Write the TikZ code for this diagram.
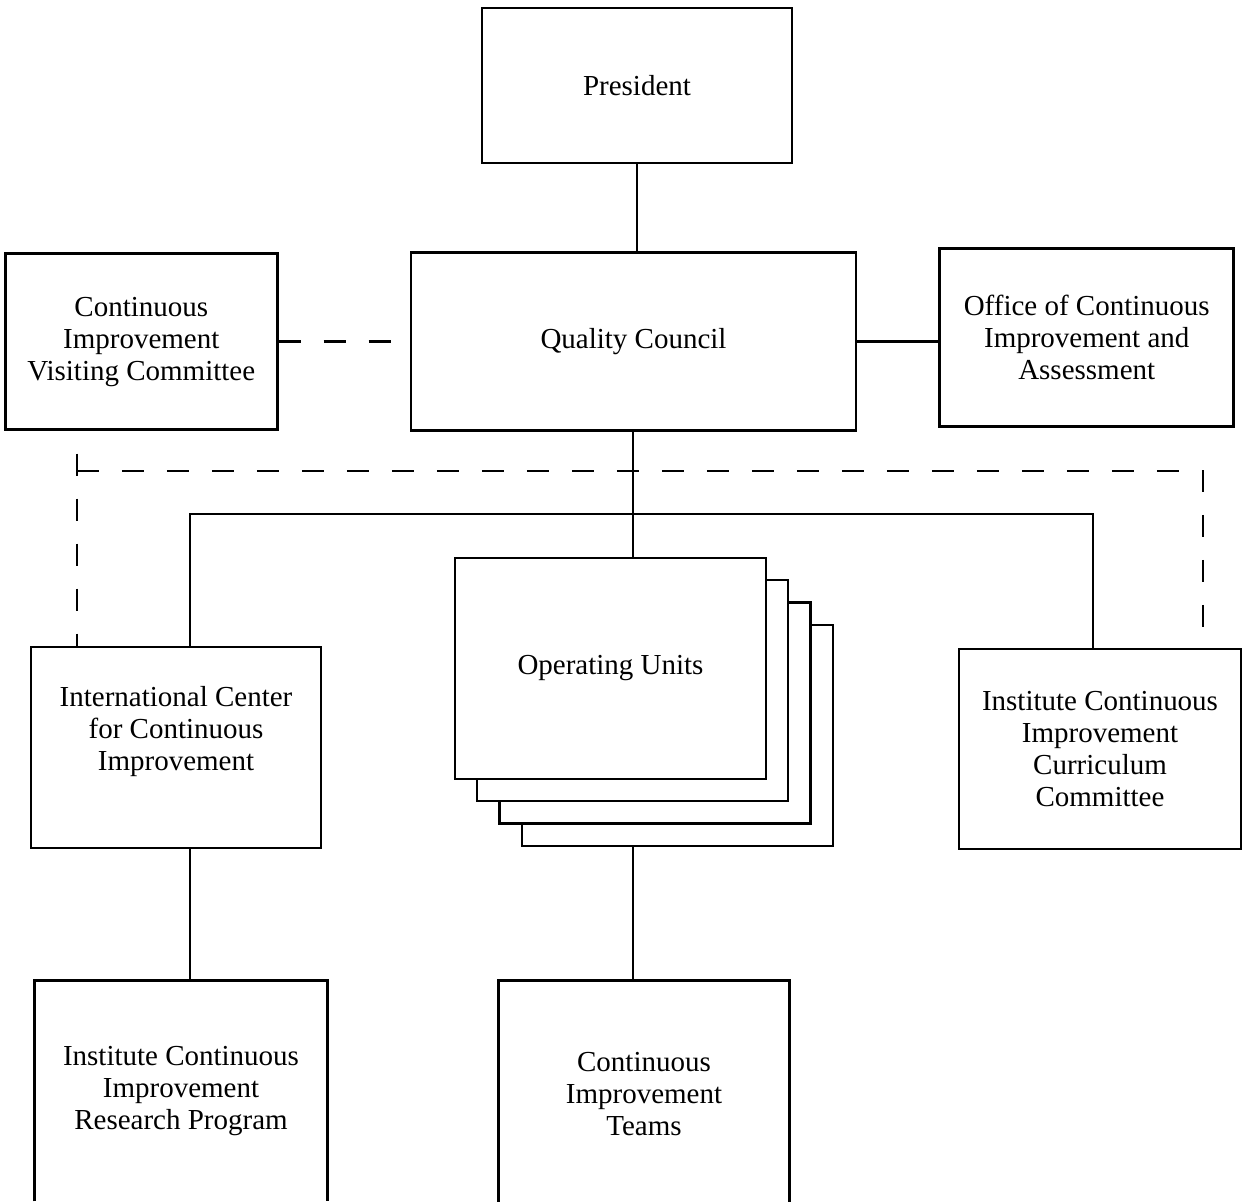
\documentclass[tikz,border=0pt]{standalone}
\usepackage{fontspec}
\setmainfont{Liberation Serif}
\usetikzlibrary{positioning, calc}

\begin{document}
\begin{tikzpicture}[x=0.02cm, y=-0.02cm]

        % --- Styles ---
        \tikzstyle{box} = [rectangle, draw=black, line width=1.6pt, fill=white, align=center, inner sep=0pt, font=\fontsize{16.5}{18.2}\selectfont]
        \tikzstyle{openbox} = [rectangle, align=center, inner sep=0pt, font=\fontsize{16.5}{18.2}\selectfont]
        \tikzstyle{unitbox} = [box, minimum width=6.22cm, minimum height=4.42cm]
        \tikzstyle{link} = [line width=1.6pt]
        \tikzstyle{dashlink} = [line width=1.6pt, dash pattern=on 0.45cm off 0.45cm]

        \useasboundingbox (0,0) rectangle (1247,1201);

        % --- Nodes ---

        % 1. President
        \node (pres) [box, minimum width=6.2cm, minimum height=3.1cm] at (637,85.5) {President};

        % 2. Quality Council and the boxes beside it
        \node (qc) [box, minimum width=8.9cm, minimum height=3.56cm, below=1.74cm of pres, xshift=-0.07cm] {Quality Council};
        \node (visit) [box, minimum width=5.44cm, minimum height=3.52cm, left=2.62cm of qc] {Continuous\\Improvement\\Visiting Committee};
        \node (office) [box, minimum width=5.88cm, minimum height=3.56cm, right=1.62cm of qc, yshift=0.08cm] {Office of Continuous\\Improvement and\\Assessment};

        % 3. Second level
        \node (intl) [box, minimum width=5.8cm, minimum height=4.02cm] at (176,747.5) {};
        \node (intltext) [openbox] at ($(intl.center) + (0,-16)$) {International Center\\for Continuous\\Improvement};
        \node (curric) [box, minimum width=5.64cm, minimum height=4cm] at (1100,749) {Institute Continuous\\Improvement\\Curriculum\\Committee};

        % Operating units (stack of four sheets)
        \node (unit3) [unitbox] at (677.5,735.5) {};
        \node (unit2) [unitbox] at (655,713) {};
        \node (unit1) [unitbox] at (632.5,690.5) {};
        \node (ops) [unitbox] at (610.5,668.5) {Operating Units};

        % 4. Bottom level (cut off by the page edge)
        \node (research) [openbox, minimum width=5.84cm, minimum height=4.4cm] at (181,1091) {Institute Continuous\\Improvement\\Research Program};
        \node (teams) [openbox, minimum width=5.8cm, minimum height=4.52cm] at (644,1094) {Continuous\\Improvement\\Teams};
        \draw[link] (research.south west) |- (research.north east) -- (research.south east);
        \draw[link] (teams.south west) |- (teams.north east) -- (teams.south east);

        % --- Connectors ---
        \coordinate (bus) at (633,514);
        \coordinate (busl) at (190,514);
        \coordinate (busr) at (1093,514);
        \coordinate (dashl) at (77,471);
        \coordinate (dashr) at (1203,471);

        \draw[link] (pres.south) -- (pres.south |- qc.north);
        \draw[link] (qc.east) -- (qc.east -| office.west);
        \draw[dashlink] (visit.east) -- (visit.east -| qc.west);
        \draw[link] (bus |- qc.south) -- (bus |- ops.north);
        \draw[link] (busl |- intl.north) -- (busl) -- (busr) -- (busr |- curric.north);
        \draw[link] (bus |- unit3.south) -- (bus |- teams.north);
        \draw[link] (busl |- intl.south) -- (busl |- research.north);

        % Dashed links of the visiting committee
        \draw[dashlink, dash phase=0.45cm] (dashl |- visit.south) -- (dashl |- intl.north);
        \draw[dashlink] (dashl) -- (dashr) -- (dashr |- curric.north);
\end{tikzpicture}
\end{document}
